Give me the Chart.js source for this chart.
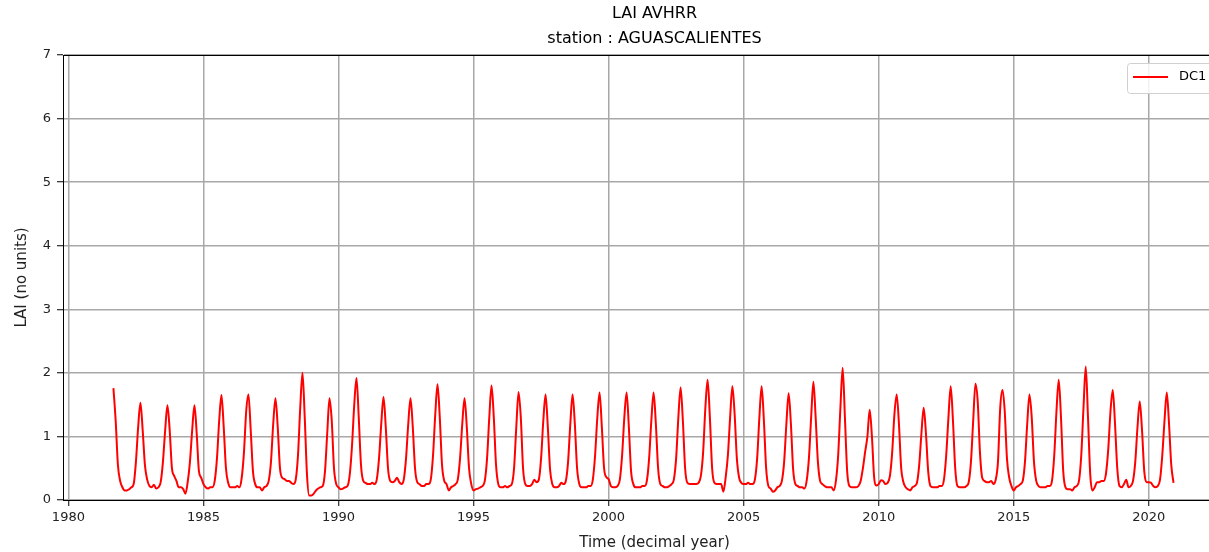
<!DOCTYPE html>
<html>
<head>
<meta charset="utf-8">
<script src="https://cdn.jsdelivr.net/npm/chart.js@4"></script>
<style>
  html, body { margin: 0; padding: 0; background: #fff; overflow: hidden; }
</style>
</head>
<body>
<canvas id="myChart" width="1252" height="552"></canvas>
<script>
const ctx = document.getElementById('myChart');

const titleLines = ['LAI AVHRR', 'station : AGUASCALIENTES'];
const xTitle = 'Time (decimal year)';
const yTitle = 'LAI (no units)';
const seriesLabel = 'DC1';
const xTicks = [1980, 1985, 1990, 1995, 2000, 2005, 2010, 2015, 2020];
const yTicks = [0, 1, 2, 3, 4, 5, 6, 7];

// monthly LAI, first value = Sep 1981
const firstYear = 1981;
const firstMonth = 8;
const laiDC1 = [
  1.76, 1.25, 0.55, 0.3,                                                // 1981
  0.2, 0.15, 0.15, 0.17, 0.2, 0.25, 0.6, 1.15, 1.53, 1.1, 0.55, 0.32,   // 1982
  0.22, 0.2, 0.24, 0.18, 0.2, 0.28, 0.6, 1.1, 1.49, 1.1, 0.5, 0.38,     // 1983
  0.3, 0.2, 0.2, 0.17, 0.1, 0.28, 0.6, 1.1, 1.49, 1.05, 0.45, 0.35,     // 1984
  0.25, 0.2, 0.18, 0.2, 0.2, 0.3, 0.65, 1.25, 1.65, 1.15, 0.5, 0.27,    // 1985
  0.2, 0.2, 0.2, 0.22, 0.2, 0.35, 0.75, 1.4, 1.66, 1.1, 0.45, 0.25,     // 1986
  0.2, 0.2, 0.15, 0.2, 0.22, 0.3, 0.6, 1.2, 1.6, 1.15, 0.5, 0.35,       // 1987
  0.33, 0.3, 0.3, 0.27, 0.25, 0.32, 0.7, 1.45, 2.0, 1.3, 0.4, 0.07,     // 1988
  0.07, 0.1, 0.15, 0.18, 0.2, 0.22, 0.45, 1.05, 1.6, 1.25, 0.5, 0.25,   // 1989
  0.2, 0.17, 0.18, 0.2, 0.22, 0.4, 0.85, 1.5, 1.92, 1.3, 0.55, 0.3,     // 1990
  0.27, 0.25, 0.25, 0.27, 0.25, 0.32, 0.65, 1.2, 1.62, 1.15, 0.5, 0.3,  // 1991
  0.28, 0.3, 0.35, 0.28, 0.25, 0.32, 0.65, 1.2, 1.6, 1.15, 0.5, 0.28,   // 1992
  0.25, 0.22, 0.22, 0.25, 0.25, 0.32, 0.7, 1.35, 1.82, 1.3, 0.55, 0.3,  // 1993
  0.25, 0.15, 0.2, 0.22, 0.25, 0.32, 0.65, 1.2, 1.6, 1.15, 0.5, 0.25,   // 1994
  0.15, 0.17, 0.18, 0.2, 0.22, 0.3, 0.65, 1.3, 1.8, 1.3, 0.55, 0.25,    // 1995
  0.2, 0.2, 0.22, 0.2, 0.22, 0.25, 0.5, 1.15, 1.7, 1.3, 0.5, 0.25,      // 1996
  0.22, 0.22, 0.25, 0.32, 0.28, 0.32, 0.65, 1.25, 1.66, 1.15, 0.48, 0.25, // 1997
  0.2, 0.2, 0.22, 0.27, 0.25, 0.3, 0.6, 1.2, 1.66, 1.2, 0.5, 0.25,      // 1998
  0.2, 0.2, 0.2, 0.22, 0.22, 0.32, 0.7, 1.3, 1.69, 1.15, 0.5, 0.36,     // 1999
  0.33, 0.22, 0.2, 0.2, 0.22, 0.32, 0.7, 1.3, 1.69, 1.15, 0.45, 0.25,   // 2000
  0.2, 0.2, 0.2, 0.22, 0.22, 0.3, 0.65, 1.25, 1.69, 1.2, 0.5, 0.25,     // 2001
  0.22, 0.2, 0.2, 0.22, 0.25, 0.32, 0.65, 1.3, 1.77, 1.25, 0.5, 0.27,   // 2002
  0.25, 0.25, 0.25, 0.25, 0.27, 0.38, 0.75, 1.45, 1.89, 1.3, 0.5, 0.27, // 2003
  0.25, 0.25, 0.25, 0.13, 0.35, 0.7, 1.3, 1.79, 1.35, 0.65, 0.35, 0.27, // 2004
  0.25, 0.25, 0.27, 0.25, 0.25, 0.32, 0.65, 1.3, 1.79, 1.25, 0.5, 0.22, // 2005
  0.18, 0.13, 0.15, 0.2, 0.22, 0.3, 0.6, 1.2, 1.68, 1.2, 0.48, 0.25,    // 2006
  0.22, 0.2, 0.2, 0.18, 0.3, 0.65, 1.3, 1.86, 1.3, 0.6, 0.3, 0.25,      // 2007
  0.22, 0.2, 0.2, 0.2, 0.15, 0.3, 0.7, 1.45, 2.08, 1.3, 0.45, 0.22,     // 2008
  0.2, 0.2, 0.2, 0.22, 0.3, 0.5, 0.76, 1.0, 1.42, 1.0, 0.35, 0.23,      // 2009
  0.25, 0.31, 0.3, 0.25, 0.27, 0.38, 0.75, 1.35, 1.66, 1.2, 0.5, 0.28,  // 2010
  0.2, 0.17, 0.15, 0.2, 0.22, 0.27, 0.55, 1.05, 1.45, 1.05, 0.45, 0.22, // 2011
  0.2, 0.2, 0.2, 0.22, 0.22, 0.32, 0.7, 1.3, 1.79, 1.25, 0.5, 0.22,     // 2012
  0.2, 0.2, 0.2, 0.22, 0.28, 0.6, 1.25, 1.83, 1.55, 0.75, 0.35, 0.3,    // 2013
  0.28, 0.28, 0.3, 0.25, 0.32, 0.6, 1.45, 1.73, 1.4, 0.65, 0.35, 0.22,  // 2014
  0.15, 0.2, 0.22, 0.25, 0.3, 0.6, 1.2, 1.66, 1.3, 0.6, 0.3, 0.22,      // 2015
  0.2, 0.2, 0.2, 0.22, 0.22, 0.3, 0.7, 1.4, 1.89, 1.3, 0.45, 0.2,       // 2016
  0.17, 0.17, 0.15, 0.2, 0.22, 0.3, 0.7, 1.45, 2.1, 1.3, 0.4, 0.15,     // 2017
  0.2, 0.28, 0.28, 0.3, 0.3, 0.42, 0.8, 1.4, 1.73, 1.2, 0.5, 0.22,      // 2018
  0.2, 0.25, 0.32, 0.2, 0.22, 0.3, 0.6, 1.15, 1.55, 1.1, 0.45, 0.28,    // 2019
  0.28, 0.27, 0.22, 0.2, 0.22, 0.32, 0.7, 1.25, 1.69, 1.2, 0.55, 0.27   // 2020
];

const points = laiDC1.map((v, i) => ({ x: firstYear + (firstMonth + i) / 12, y: v }));

const FONT = '"DejaVu Sans", sans-serif';

// frame, title and legend drawn like matplotlib
const overlay = {
  id: 'overlay',
  afterDraw(chart) {
    const c = chart.ctx;
    const a = chart.chartArea;
    c.save();
    c.strokeStyle = '#000';
    c.lineWidth = 1;
    c.strokeRect(a.left + 0.5, a.top + 0.5, a.right - a.left, a.bottom - a.top);

    const cx = (a.left + a.right) / 2;
    c.fillStyle = '#000';
    c.font = '16px ' + FONT;
    c.textAlign = 'center';
    c.textBaseline = 'middle';
    titleLines.forEach((t, i) => c.fillText(t, cx, 14 + i * 25));

    // legend box
    const ds = chart.data.datasets[0];
    c.font = '13px ' + FONT;
    const tw = c.measureText(ds.label).width;
    const bx = 1127, by = 63, bh = 30;
    const bw = 52 + tw + 10;
    c.fillStyle = 'rgba(255,255,255,0.85)';
    c.strokeStyle = '#d0d0d0';
    c.beginPath();
    c.roundRect(bx + 0.5, by + 0.5, bw, bh, 3);
    c.fill();
    c.stroke();
    c.strokeStyle = ds.borderColor;
    c.lineWidth = 2;
    c.beginPath();
    c.moveTo(bx + 6, by + 14);
    c.lineTo(bx + 41, by + 14);
    c.stroke();
    c.fillStyle = '#000';
    c.textAlign = 'left';
    c.fillText(ds.label, bx + 52, by + 14);
    c.restore();
  }
};

const myChart = new Chart(ctx, {
  type: 'line',
  data: {
    datasets: [{
      label: seriesLabel,
      data: points,
      borderColor: '#ff0000',
      borderWidth: 2,
      pointRadius: 0,
      cubicInterpolationMode: 'monotone',
      fill: false
    }]
  },
  options: {
    responsive: false,
    animation: false,
    layout: { padding: { left: 0, right: 6, top: 55, bottom: 0 } },
    plugins: {
      legend: { display: false },
      title: { display: false },
      tooltip: { enabled: false }
    },
    scales: {
      x: {
        type: 'linear',
        min: 1979.8,
        max: 2023.6,
        afterBuildTicks: s => { s.ticks = xTicks.map(v => ({ value: v })); },
        afterFit: s => { s.height = 52; },
        grid: { color: '#a8a8a8', lineWidth: 1.5, tickLength: 6, tickColor: '#000', tickWidth: 1 },
        border: { display: true, color: '#000', width: 1 },
        ticks: { color: '#222', padding: 4, maxRotation: 0, font: { family: FONT, size: 13 }, callback: v => String(v) },
        title: { display: true, text: xTitle, color: '#222', padding: { top: 0, bottom: 0 }, font: { family: FONT, size: 15 } }
      },
      y: {
        min: 0,
        max: 7,
        afterBuildTicks: s => { s.ticks = yTicks.map(v => ({ value: v })); },
        afterFit: s => { s.width = 63; },
        grid: { color: '#a8a8a8', lineWidth: 1.5, tickLength: 6, tickColor: '#000', tickWidth: 1 },
        border: { display: true, color: '#000', width: 1 },
        ticks: { color: '#222', padding: 6, font: { family: FONT, size: 13 }, callback: v => String(v) },
        title: { display: true, text: yTitle, color: '#222', padding: { top: 13, bottom: 0 }, font: { family: FONT, size: 15 } }
      }
    }
  },
  plugins: [overlay]
});
</script>
</body>
</html>
